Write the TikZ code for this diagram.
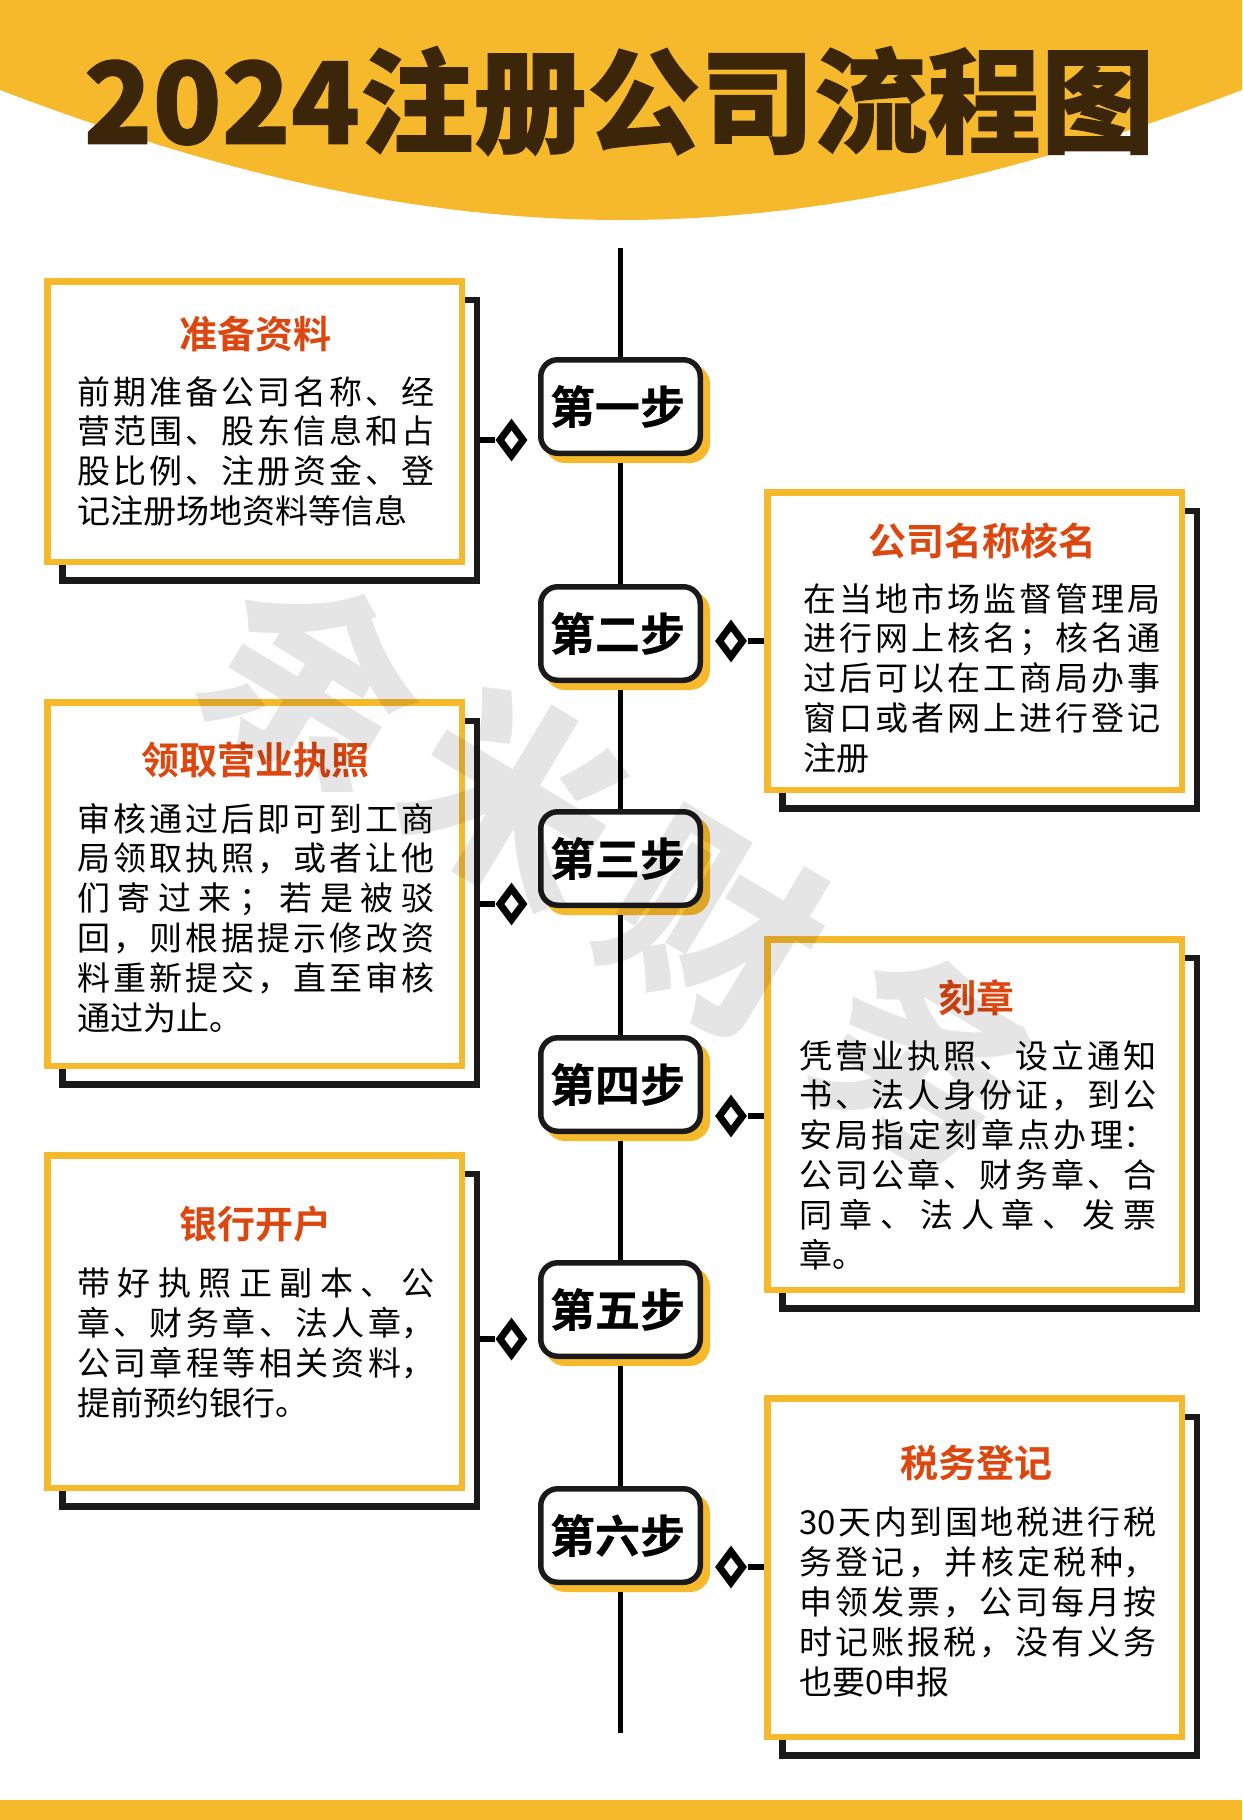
\documentclass[tikz,border=0pt]{standalone}
\usepackage{fontspec}
\setmainfont{Noto Sans CJK SC}
\newfontfamily\cntitle[FakeBold=0.9]{Noto Sans CJK SC Black}
\newfontfamily\cnblack{Noto Sans CJK SC Black}
\newfontfamily\cnbold{Noto Sans CJK SC Bold}
\newfontfamily\cnstep[FakeBold=0.5]{Noto Sans CJK SC Bold}
\usepackage{xcolor}
\usetikzlibrary{calc,positioning,shapes.geometric}
\definecolor{mango}{HTML}{F7B92C}
\definecolor{titlebrown}{HTML}{3B2609}
\definecolor{headred}{HTML}{DC4710}
\definecolor{inkblack}{HTML}{1A1A1A}
\XeTeXlinebreaklocale "zh"
\XeTeXlinebreakskip=0pt plus 8pt
\tolerance=9999
\newcommand{\gap}{\hskip 0pt plus 8pt\relax}
\tikzset{
  cardbox/.style={draw=mango,fill=white,line width=6.5pt,inner sep=0pt,anchor=north west},
  framebox/.style={draw=inkblack,fill=white,line width=6.5pt,inner sep=0pt,anchor=north west},
  stepbox/.style={draw=inkblack,fill=white,line width=5.5pt,rounded corners=17pt,inner sep=0pt,
    minimum width=159.5pt,minimum height=93.5pt,anchor=north west},
  stepshade/.style={fill=mango,rounded corners=20pt,inner sep=0pt,outer sep=0pt,
    minimum width=165pt,minimum height=99pt,anchor=north west},
  steptext/.style={font=\cnstep\fontsize{45}{45}\selectfont,text=black,inner sep=0pt},
  headtext/.style={font=\cnbold\fontsize{38}{38}\selectfont,text=headred,inner sep=0pt},
  bodytext/.style={font=\fontsize{33}{39.8}\selectfont,text=black,inner sep=0pt,
    text width=357pt,align=justify,anchor=north west},
  knot/.style={diamond,draw=black,fill=white,line width=7pt,inner sep=0pt,
    minimum width=26pt,minimum height=34pt},
  stub/.style={draw=black,line width=6.5pt},
  axisline/.style={draw=black,line width=4.6pt},
  marktext/.style={font=\cnblack\fontsize{205}{205}\selectfont,text=black,text opacity=0.1,rotate=-31,inner sep=0pt}
}
\begin{document}
\begin{tikzpicture}[x=1pt,y=-1pt]
  \useasboundingbox (0,0) rectangle (1242,1820);
  % banner and foot
  \fill[mango] (0,0) -- (1242,0) -- (1242,90)
    .. controls (1032,170) and (832,220) .. (621,220)
    .. controls (410,220) and (210,170) .. (0,90) -- cycle;
  \fill[mango] (0,1800) rectangle (1242,1820);
  \node[font=\cntitle\fontsize{113.5}{113.5}\selectfont,text=titlebrown,inner sep=0pt] (title) at (619,101) {2024注册公司流程图};
  % cards
  \foreach \name/\xa/\ya/\ha in {1/44/278/287,2/764/489/304,3/44/699/370,4/764/936/357,5/44/1152/339,6/764/1395/345}{
    \node[framebox,minimum width=414.5pt,minimum height=\ha*1pt-6.5pt] (frame\name) at ({\xa+15},{\ya+18.5}) {};
    \node[cardbox,minimum width=414.5pt,minimum height=\ha*1pt-6.5pt] (card\name) at (\xa,\ya) {};
  }
  % steps
  \foreach \i/\ya/\lab in {1/357/第一步,2/584/第二步,3/809/第三步,4/1035/第四步,5/1260/第五步,6/1486/第六步}{
    \node[stepshade] (shade\i) at (545,{\ya+7}) {};
    \node[stepbox] (step\i) at (538,\ya) {};
    \node[steptext] (steplab\i) at ($(step\i)+(-3,0)$) {\lab};
  }
  \coordinate (axistop) at (620.5,248);
  \coordinate (axisbot) at (620.5,1733);
  \draw[axisline] (axistop) -- (step1.north);
  \foreach \i/\j in {1/2,2/3,3/4,4/5,5/6}{
    \draw[axisline] (shade\i.south -| step\i.south) -- (step\j.north);
  }
  \draw[axisline] (shade6.south -| step6.south) -- (axisbot);
  % knots
  \node[knot] (knot1) at (511.5,440) {};
  \node[knot] (knot2) at (731,641) {};
  \node[knot] (knot3) at (511.5,904) {};
  \node[knot] (knot4) at (731,1116) {};
  \node[knot] (knot5) at (511.5,1339) {};
  \node[knot] (knot6) at (731,1567) {};
  \foreach \i in {1,3,5}{
    \draw[stub] (frame\i.east |- knot\i) -- (knot\i.west);
  }
  \foreach \i in {2,4,6}{
    \draw[stub] (card\i.west |- knot\i) -- (knot\i.east);
  }
  % card texts
  \node[headtext] (head1) at (255,334) {准备资料};
  \node[bodytext] (body1) at (77,376) {前期准备公司名称\gap、经\linebreak
    营范围\gap、股东信息和占\linebreak
    股比例\gap、注册资金\gap、登\linebreak
    记注册场地资料等信息};
  \node[headtext] (head2) at (982,541) {公司名称核名};
  \node[bodytext] (body2) at (803,583) {在当地市场监督管理局\linebreak
    进行网上核名\gap；核名通\linebreak
    过后可以在工商局办事\linebreak
    窗口或者网上进行登记\linebreak
    注册};
  \node[headtext] (head3) at (255,760) {领取营业执照};
  \node[bodytext] (body3) at (77,803) {审核通过后即可到工商\linebreak
    局领取执照\gap，或者让他\linebreak
    们寄过来\gap；若是被驳\linebreak
    回\gap，则根据提示修改资\linebreak
    料重新提交\gap，直至审核\linebreak
    通过为止。};
  \node[headtext] (head4) at (976,998) {刻章};
  \node[bodytext] (body4) at (799,1040) {凭营业执照\gap、设立通知\linebreak
    书\gap、法人身份证\gap，到公\linebreak
    安局指定刻章点办理：\linebreak
    公司公章\gap、财务章\gap、合\linebreak
    同章\gap、法人章\gap、发票\linebreak
    章。};
  \node[headtext] (head5) at (255,1224) {银行开户};
  \node[bodytext] (body5) at (77,1268) {带好执照正副本\gap、公\linebreak
    章\gap、财务章\gap、法人章，\linebreak
    公司章程等相关资料，\linebreak
    提前预约银行。};
  \node[headtext] (head6) at (976,1463) {税务登记};
  \node[bodytext] (body6) at (799,1507) {30天内到国地税进行税\linebreak
    务登记\gap，并核定税种，\linebreak
    申领发票\gap，公司每月按\linebreak
    时记账报税\gap，没有义务\linebreak
    也要0申报};
  % watermark
  \node[marktext] (mark1) at (315,680) {余};
  \node[marktext] (mark2) at (515,797) {米};
  \node[marktext] (mark3) at (715,925) {财};
  \node[marktext] (mark4) at (925,1060) {务};
\end{tikzpicture}
\end{document}
